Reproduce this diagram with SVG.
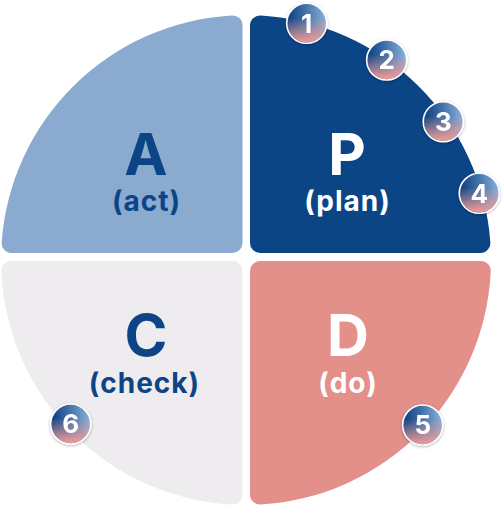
<svg xmlns="http://www.w3.org/2000/svg" width="502" height="507" viewBox="0 0 502 507">
  <style>
    .big { font-family: Inter, "Liberation Sans", sans-serif; font-weight: 700; font-size: 58px; text-anchor: middle; }
    .sub { font-family: Inter, "Liberation Sans", sans-serif; font-weight: 700; font-size: 28px; letter-spacing: 1px; text-anchor: middle; }
    .dark { fill: #0b4586; }
    .light { fill: #ffffff; }
    .num { font-family: Inter, "Liberation Sans", sans-serif; font-weight: 700; font-size: 26px; fill: #ffffff; text-anchor: middle; }
    .badge-base { fill: url(#blueGrad); stroke: #ffffff; stroke-width: 1.6; }
    .badge-pink { fill: url(#pinkGrad); }
  </style>
  <defs>
    <linearGradient id="blueGrad" x1="0" y1="0.2" x2="1" y2="0.1">
      <stop offset="0" stop-color="#0c3f80"/>
      <stop offset="0.45" stop-color="#3f6fa8"/>
      <stop offset="1" stop-color="#8fb6dc"/>
    </linearGradient>
    <linearGradient id="pinkGrad" x1="0" y1="0" x2="0" y2="1">
      <stop offset="0.35" stop-color="#f19b95" stop-opacity="0"/>
      <stop offset="1" stop-color="#f19b95" stop-opacity="1"/>
    </linearGradient>
    <filter id="shadow" x="-30%" y="-30%" width="160%" height="160%">
      <feDropShadow dx="0" dy="1" stdDeviation="1.5" flood-color="#000000" flood-opacity="0.3"/>
    </filter>
  </defs>

  <g id="node-A">
    <path fill="#8aaad0" d="M 242.5,243 L 242.5,25.39 A 10 10 0 0 0 231.93,15.41 A 245 245 0 0 0 1.65,242.28 A 10 10 0 0 0 11.62,253 L 232.5,253 A 10 10 0 0 0 242.5,243 Z"/>
    <text class="big dark" x="146" y="175">A</text>
    <text class="sub dark" x="146.5" y="211">(act)</text>
  </g>

  <g id="node-P">
    <path fill="#0b4586" d="M 250,243 L 250,25.42 A 10 10 0 0 1 260.6,15.43 A 245 245 0 0 1 490.35,242.28 A 10 10 0 0 1 480.38,253 L 260,253 A 10 10 0 0 1 250,243 Z"/>
    <text class="big light" x="347" y="175">P</text>
    <text class="sub light" x="347.5" y="211">(plan)</text>
  </g>

  <g id="node-C">
    <path fill="#eeecee" d="M 232.5,261 A 10 10 0 0 1 242.5,271 L 242.5,494.61 A 10 10 0 0 1 231.93,504.59 A 245 245 0 0 1 1.27,271.47 A 10 10 0 0 1 11.26,261 Z"/>
    <text class="big dark" x="146" y="356">C</text>
    <text class="sub dark" x="144.5" y="393">(check)</text>
  </g>

  <g id="node-D">
    <path fill="#e38f8a" d="M 260,261 L 480.74,261 A 10 10 0 0 1 490.73,271.47 A 245 245 0 0 1 260.6,504.57 A 10 10 0 0 1 250,494.58 L 250,271 A 10 10 0 0 1 260,261 Z"/>
    <text class="big light" x="348" y="356">D</text>
    <text class="sub light" x="348" y="393">(do)</text>
  </g>

  <g id="connectors"></g>

  <g id="badge-1" filter="url(#shadow)">
    <circle class="badge-base" cx="306.7" cy="23.3" r="20"/>
    <circle class="badge-pink" cx="306.7" cy="23.3" r="19.2"/>
    <text class="num" x="306.7" y="32.5">1</text>
  </g>
  <g id="badge-2" filter="url(#shadow)">
    <circle class="badge-base" cx="386.7" cy="60" r="20"/>
    <circle class="badge-pink" cx="386.7" cy="60" r="19.2"/>
    <text class="num" x="386.7" y="69.2">2</text>
  </g>
  <g id="badge-3" filter="url(#shadow)">
    <circle class="badge-base" cx="443.3" cy="121.7" r="20"/>
    <circle class="badge-pink" cx="443.3" cy="121.7" r="19.2"/>
    <text class="num" x="443.3" y="130.9">3</text>
  </g>
  <g id="badge-4" filter="url(#shadow)">
    <circle class="badge-base" cx="479.3" cy="193.3" r="20"/>
    <circle class="badge-pink" cx="479.3" cy="193.3" r="19.2"/>
    <text class="num" x="479.3" y="202.5">4</text>
  </g>
  <g id="badge-5" filter="url(#shadow)">
    <circle class="badge-base" cx="422.7" cy="425" r="20"/>
    <circle class="badge-pink" cx="422.7" cy="425" r="19.2"/>
    <text class="num" x="422.7" y="434.2">5</text>
  </g>
  <g id="badge-6" filter="url(#shadow)">
    <circle class="badge-base" cx="70.7" cy="424" r="20"/>
    <circle class="badge-pink" cx="70.7" cy="424" r="19.2"/>
    <text class="num" x="70.7" y="433.2">6</text>
  </g>
</svg>
